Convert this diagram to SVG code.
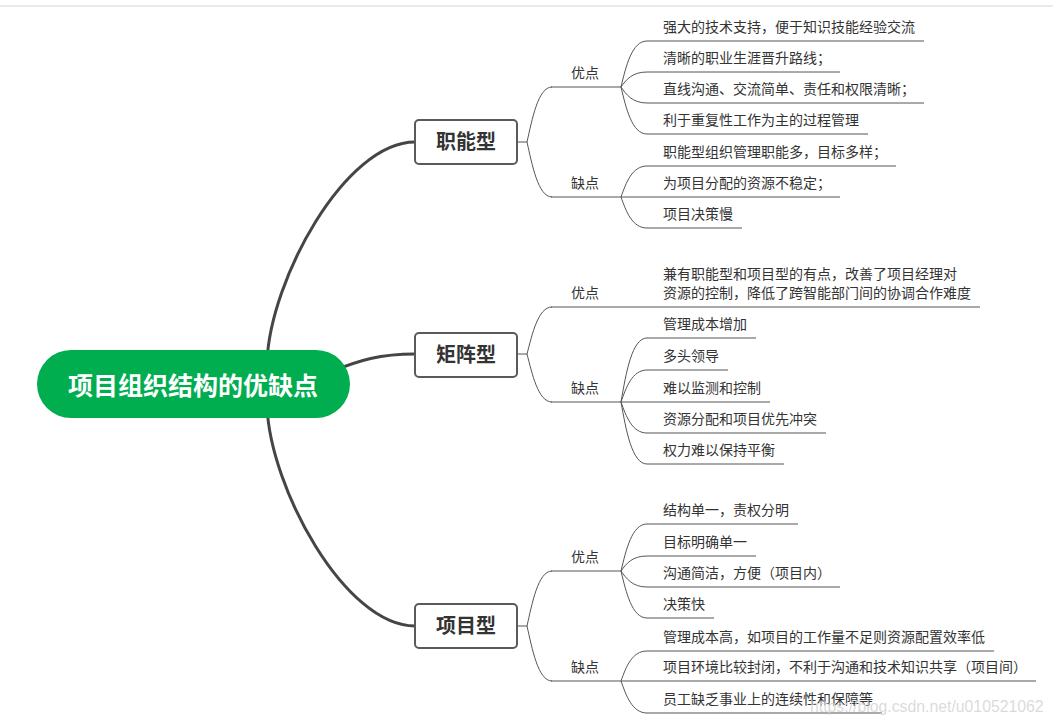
<svg xmlns="http://www.w3.org/2000/svg" width="1053" height="726" viewBox="0 0 1053 726">
<style>
.t{font-family:"Noto Sans CJK SC","Noto Sans",sans-serif;font-size:14px;fill:#333}
.root{font-family:"Noto Sans CJK SC","Noto Sans",sans-serif;font-size:25px;font-weight:bold;fill:#fff}
.bt{font-family:"Noto Sans CJK SC","Noto Sans",sans-serif;font-size:20px;font-weight:bold;fill:#333}
.box{fill:#fff;stroke:#5a5a5a;stroke-width:2}
.main{fill:none;stroke:#454545;stroke-width:3}
.c{fill:none;stroke:#555;stroke-width:1}
.u{stroke:#555;stroke-width:1}
.wm{font-family:"Liberation Sans",Arial,sans-serif;font-size:15.8px;fill:#d4d4d4;fill-opacity:0.85}
</style>
<rect x="0" y="0" width="1053" height="726" fill="#fff"/>
<line x1="0" y1="6" x2="1053" y2="6" stroke="#e3e3e3" stroke-width="1.5"/>
<g id="connectors">
<path class="main" d="M267,362 C270,280 345,142 415,142"/>
<path class="main" d="M330,372 C360,360 380,354 415,354"/>
<path class="main" d="M267,406 C270,488 345,626 415,626"/>
<path class="c" d="M517,142 H527 M527,142 C532,120 538,87 552,87 M527,142 C532,164 538,197 552,197"/>
<path class="c" d="M517,354 H527 M527,354 C532,335 538,307 552,307 M527,354 C532,373 538,402 552,402"/>
<path class="c" d="M517,626 H527 M527,626 C532,604 538,571 552,571 M527,626 C532,648 538,681 552,681"/>
<path class="c" d="M621,87 C626,66 632,41 647,41 M621,87 C626,80 632,72 647,72 M621,87 C626,94 632,103 647,103 M621,87 C626,108 632,134 647,134"/>
<path class="c" d="M621,197 C626,183 632,166 647,166 M621,197 H647 M621,197 C626,211 632,228 647,228"/>
<path class="c" d="M621,307 H647"/>
<path class="c" d="M621,402 C626,373 632,338 647,338 M621,402 C626,388 632,370 647,370 M621,402 H647 M621,402 C626,416 632,433 647,433 M621,402 C626,430 632,464 647,464"/>
<path class="c" d="M621,571 C626,550 632,524 647,524 M621,571 C626,564 632,556 647,556 M621,571 C626,578 632,587 647,587 M621,571 C626,592 632,618 647,618"/>
<path class="c" d="M621,681 C626,667 632,651 647,651 M621,681 H647 M621,681 C626,695 632,713 647,713"/>
</g>
<g id="root">
<rect x="37" y="350" width="313" height="68" rx="34" fill="#00ad4f"/>
<text class="root" x="193" y="395" text-anchor="middle">项目组织结构的优缺点</text>
</g>
<g id="b1"><rect class="box" x="415" y="120" width="102" height="44" rx="4"/><text class="bt" x="466" y="149" text-anchor="middle">职能型</text></g>
<g id="b2"><rect class="box" x="415" y="333" width="102" height="44" rx="4"/><text class="bt" x="466" y="362" text-anchor="middle">矩阵型</text></g>
<g id="b3"><rect class="box" x="415" y="604" width="102" height="44" rx="4"/><text class="bt" x="466" y="633" text-anchor="middle">项目型</text></g>
<g id="s1a"><text class="t" x="571" y="78">优点</text><line class="u" x1="551" y1="87" x2="621" y2="87"/></g>
<g id="s1b"><text class="t" x="571" y="188">缺点</text><line class="u" x1="551" y1="197" x2="621" y2="197"/></g>
<g id="s2a"><text class="t" x="571" y="298">优点</text><line class="u" x1="551" y1="307" x2="621" y2="307"/></g>
<g id="s2b"><text class="t" x="571" y="393">缺点</text><line class="u" x1="551" y1="402" x2="621" y2="402"/></g>
<g id="s3a"><text class="t" x="571" y="562">优点</text><line class="u" x1="551" y1="571" x2="621" y2="571"/></g>
<g id="s3b"><text class="t" x="571" y="672">缺点</text><line class="u" x1="551" y1="681" x2="621" y2="681"/></g>
<g id="l1"><text class="t" x="663" y="32">强大的技术支持，便于知识技能经验交流</text><line class="u" x1="647" y1="41" x2="924" y2="41"/></g>
<g id="l2"><text class="t" x="663" y="63">清晰的职业生涯晋升路线；</text><line class="u" x1="647" y1="72" x2="840" y2="72"/></g>
<g id="l3"><text class="t" x="663" y="94">直线沟通、交流简单、责任和权限清晰；</text><line class="u" x1="647" y1="103" x2="924" y2="103"/></g>
<g id="l4"><text class="t" x="663" y="125">利于重复性工作为主的过程管理</text><line class="u" x1="647" y1="134" x2="868" y2="134"/></g>
<g id="l5"><text class="t" x="663" y="157">职能型组织管理职能多，目标多样；</text><line class="u" x1="647" y1="166" x2="896" y2="166"/></g>
<g id="l6"><text class="t" x="663" y="188">为项目分配的资源不稳定；</text><line class="u" x1="647" y1="197" x2="840" y2="197"/></g>
<g id="l7"><text class="t" x="663" y="219">项目决策慢</text><line class="u" x1="647" y1="228" x2="742" y2="228"/></g>
<g id="l8"><text class="t" x="663" y="279">兼有职能型和项目型的有点，改善了项目经理对</text><text class="t" x="663" y="298">资源的控制，降低了跨智能部门间的协调合作难度</text><line class="u" x1="647" y1="307" x2="980" y2="307"/></g>
<g id="l9"><text class="t" x="663" y="329">管理成本增加</text><line class="u" x1="647" y1="338" x2="756" y2="338"/></g>
<g id="l10"><text class="t" x="663" y="361">多头领导</text><line class="u" x1="647" y1="370" x2="728" y2="370"/></g>
<g id="l11"><text class="t" x="663" y="393">难以监测和控制</text><line class="u" x1="647" y1="402" x2="770" y2="402"/></g>
<g id="l12"><text class="t" x="663" y="424">资源分配和项目优先冲突</text><line class="u" x1="647" y1="433" x2="826" y2="433"/></g>
<g id="l13"><text class="t" x="663" y="455">权力难以保持平衡</text><line class="u" x1="647" y1="464" x2="784" y2="464"/></g>
<g id="l14"><text class="t" x="663" y="515">结构单一，责权分明</text><line class="u" x1="647" y1="524" x2="798" y2="524"/></g>
<g id="l15"><text class="t" x="663" y="547">目标明确单一</text><line class="u" x1="647" y1="556" x2="756" y2="556"/></g>
<g id="l16"><text class="t" x="663" y="578">沟通简洁，方便（项目内）</text><line class="u" x1="647" y1="587" x2="840" y2="587"/></g>
<g id="l17"><text class="t" x="663" y="609">决策快</text><line class="u" x1="647" y1="618" x2="714" y2="618"/></g>
<g id="l18"><text class="t" x="663" y="642">管理成本高，如项目的工作量不足则资源配置效率低</text><line class="u" x1="647" y1="651" x2="994" y2="651"/></g>
<g id="l19"><text class="t" x="663" y="672">项目环境比较封闭，不利于沟通和技术知识共享（项目间）</text><line class="u" x1="647" y1="681" x2="1036" y2="681"/></g>
<g id="l20"><text class="t" x="663" y="704">员工缺乏事业上的连续性和保障等</text><line class="u" x1="647" y1="713" x2="882" y2="713"/></g>
<text class="wm" x="810" y="712">https://blog.csdn.net/u010521062</text>
</svg>
